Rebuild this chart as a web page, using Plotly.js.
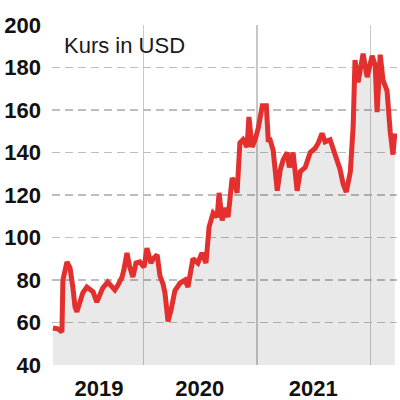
<!DOCTYPE html>
<html>
<head>
<meta charset="utf-8">
<script src="https://cdn.plot.ly/plotly-3.0.1.min.js"></script>
<style>
  html, body { margin: 0; padding: 0; background: #fff; }
  #chart { width: 400px; height: 400px; }
</style>
</head>
<body>
<div id="chart"></div>
<script>
// ===== Data (Kurs in USD) =====
const dates = [
  '2019-03-17', '2019-04-02', '2019-04-15', '2019-04-18', '2019-05-01', '2019-05-11',
  '2019-05-20', '2019-05-27', '2019-06-02', '2019-06-12', '2019-06-21', '2019-07-04',
  '2019-07-14', '2019-07-24', '2019-08-05', '2019-08-15', '2019-08-24', '2019-09-09',
  '2019-09-22', '2019-10-02', '2019-10-12', '2019-10-25', '2019-10-31', '2019-11-10',
  '2019-11-19', '2019-11-29', '2019-12-09', '2019-12-21',
  '2020-01-04', '2020-01-13', '2020-01-26', '2020-02-02', '2020-02-15', '2020-02-24',
  '2020-03-05', '2020-03-11', '2020-03-21', '2020-03-31', '2020-04-12', '2020-04-29',
  '2020-05-15', '2020-05-24', '2020-06-09', '2020-06-25', '2020-07-08', '2020-07-21',
  '2020-07-31', '2020-08-13', '2020-08-26', '2020-09-01', '2020-09-11', '2020-09-20',
  '2020-09-30', '2020-10-13', '2020-10-22', '2020-10-29', '2020-11-07', '2020-11-17',
  '2020-11-30', '2020-12-06', '2020-12-16', '2020-12-26',
  '2021-01-05', '2021-01-18', '2021-01-31', '2021-02-06', '2021-02-12', '2021-02-22',
  '2021-03-07', '2021-03-17', '2021-03-26', '2021-04-08', '2021-04-15', '2021-04-27',
  '2021-05-10', '2021-05-20', '2021-06-05', '2021-06-21', '2021-07-07', '2021-07-17',
  '2021-07-29', '2021-08-08', '2021-08-24', '2021-09-03', '2021-09-16', '2021-09-25',
  '2021-10-05', '2021-10-15', '2021-10-28', '2021-11-06', '2021-11-12', '2021-11-22',
  '2021-12-08', '2021-12-21',
  '2022-01-06', '2022-01-16', '2022-01-22', '2022-02-01', '2022-02-10', '2022-02-23',
  '2022-03-05', '2022-03-14', '2022-03-20'
];
const prices = [
  57.4, 57, 55.5, 80, 88.5, 85.6,
  76.7, 67.3, 65, 70.6, 74, 76.7,
  75.3, 74.4, 69.6, 73.9, 76.2, 79,
  76.7, 75.3, 77.6, 81.4, 84.7, 92.7,
  86, 81.4, 88, 88.5,
  86, 95, 88, 90, 91.8, 82,
  78, 74, 60.5, 66, 75, 78.6,
  80, 76.7, 90, 88, 92.7, 88,
  105, 111.5, 109.6, 121, 108, 114,
  109.6, 128, 125.6, 121, 144.5, 146,
  142.6, 156.7, 142.6, 146,
  151.5, 162, 162, 146, 146, 141,
  122, 132, 136.5, 140, 133, 140,
  122, 131, 133, 140, 142, 144.5,
  149, 145, 146, 142, 136.5, 132,
  125, 121.4, 131, 152, 183.5, 173,
  186.5, 175.5,
  185.5, 181, 159, 186, 174, 169,
  150, 139, 149
];

const yearLabels = ['2019', '2020', '2021'];
const yearLabelPos = ['2019-08-12', '2020-07-01', '2021-07-01'];
const yearStarts = ['2020-01-01', '2021-01-01', '2022-01-01'];
const yTicks = [40, 60, 80, 100, 120, 140, 160, 180, 200];

const FONT_FAMILY = 'Liberation Sans, Arial, sans-serif';
const TICK_FONT = { family: FONT_FAMILY, size: 22, color: '#111', weight: 'bold' };

Plotly.newPlot('chart', [{
  x: dates, y: prices, type: 'scatter', mode: 'lines',
  line: { color: '#e3302f', width: 5 },
  fill: 'tozeroy', fillcolor: 'rgba(0,0,0,0.085)',
  hoverinfo: 'skip',
}], {
  width: 400, height: 400,
  paper_bgcolor: '#fff',
  plot_bgcolor: '#fff',
  margin: { l: 52, r: 3, t: 25, b: 35 },
  showlegend: false,
  xaxis: {
    type: 'date',
    range: ['2019-03-14', '2022-03-27'],
    tickmode: 'array', tickvals: yearLabelPos, ticktext: yearLabels,
    showgrid: false, zeroline: false, showline: false, ticks: '',
    tickfont: TICK_FONT, ticklabelstandoff: 8,
    minor: { tickmode: 'array', tickvals: yearStarts, showgrid: true, gridcolor: '#c8c8c8', gridwidth: 1.2, ticks: '' },
  },
  yaxis: {
    range: [40, 200],
    tickmode: 'array', tickvals: yTicks,
    showgrid: true, gridcolor: '#bdbdbd', gridwidth: 1.2, griddash: '8px,5px',
    zeroline: false, showline: false, ticks: '',
    tickfont: TICK_FONT, ticklabelstandoff: 10,
  },
  annotations: [{
    text: 'Kurs in USD', xref: 'paper', yref: 'paper', x: 0.03, y: 0.94,
    xanchor: 'left', yanchor: 'middle', showarrow: false,
    font: { family: FONT_FAMILY, size: 22, color: '#1a1a1a' },
  }],
}, { displayModeBar: false, staticPlot: true });
</script>
</body>
</html>
